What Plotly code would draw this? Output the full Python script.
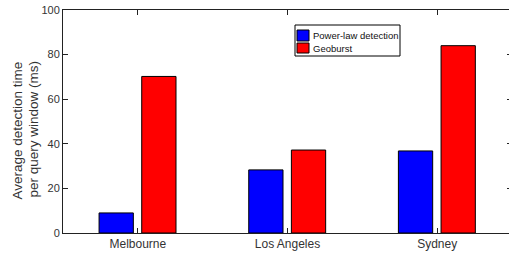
import plotly.graph_objects as go

cities = ["Melbourne", "Los Angeles", "Sydney"]
series_names = ["Power-law detection", "Geoburst"]
powerlaw = [9, 28.3, 36.8]
geoburst = [70.2, 37.2, 84.0]
y_ticks = [0, 20, 40, 60, 80, 100]
colors = ["#0000ff", "#ff0000"]

W, H = 512, 255
L, R, T, B = 63, 0, 10, 22
PW, PH = W - L - R, H - T - B


def px(x):
    return (x - L) / PW


def py(y):
    return (H - B - y) / PH


xpos = [1, 2, 3]
fig = go.Figure()
fig.add_trace(go.Bar(x=xpos, y=powerlaw, name=series_names[0],
                     marker=dict(color=colors[0], line=dict(color="#000000", width=1)),
                     width=0.229, offset=-0.259, showlegend=False))
fig.add_trace(go.Bar(x=xpos, y=geoburst, name=series_names[1],
                     marker=dict(color=colors[1], line=dict(color="#000000", width=1)),
                     width=0.229, offset=0.026, showlegend=False))

axis_common = dict(showline=True, linecolor="#222222", linewidth=1, mirror="ticks",
                   ticks="inside", ticklen=5, tickcolor="#222222", showgrid=False,
                   zeroline=False)

shapes = [dict(type="rect", xref="paper", yref="paper",
               x0=px(295), x1=px(400), y0=py(56), y1=py(25),
               line=dict(color="#000000", width=1), fillcolor="white", layer="above")]
annotations = []
sq = [(30, 41), (43, 53)]
for i, name in enumerate(series_names):
    y0, y1 = sq[i]
    shapes.append(dict(type="rect", xref="paper", yref="paper",
                       x0=px(297), x1=px(309), y0=py(y1), y1=py(y0),
                       line=dict(color="#000000", width=1), fillcolor=colors[i], layer="above"))
    annotations.append(dict(text=name, xref="paper", yref="paper",
                            x=px(311), y=py((y0 + y1) / 2), xanchor="left", yanchor="middle",
                            showarrow=False, font=dict(family="Liberation Sans", size=9.5, color="#111111")))

title_font = dict(family="Liberation Sans", size=13.5, color="#333333")
annotations.append(dict(text="Average detection time", xref="paper", yref="paper",
                        x=px(17), y=py(130.5), textangle=-90, showarrow=False,
                        xanchor="center", yanchor="middle", font=title_font))
annotations.append(dict(text="per query window (ms)", xref="paper", yref="paper",
                        x=px(32.5), y=py(129), textangle=-90, showarrow=False,
                        xanchor="center", yanchor="middle", font=title_font))

fig.update_layout(
    width=W, height=H,
    margin=dict(l=L, r=R, t=T, b=B),
    plot_bgcolor="white", paper_bgcolor="white",
    showlegend=False,
    shapes=shapes,
    annotations=annotations,
    xaxis=dict(range=[0.5, 3.5], tickvals=xpos, ticktext=cities,
               tickfont=dict(family="Liberation Sans", size=12, color="#333333"), **axis_common),
    yaxis=dict(range=[0, 100], tickvals=y_ticks,
               tickfont=dict(family="Liberation Sans", size=11, color="#333333"), **axis_common),
)
fig.write_html("out.html", config={"displayModeBar": False},
               post_script="document.body.style.margin='0';document.body.style.overflow='hidden';")
